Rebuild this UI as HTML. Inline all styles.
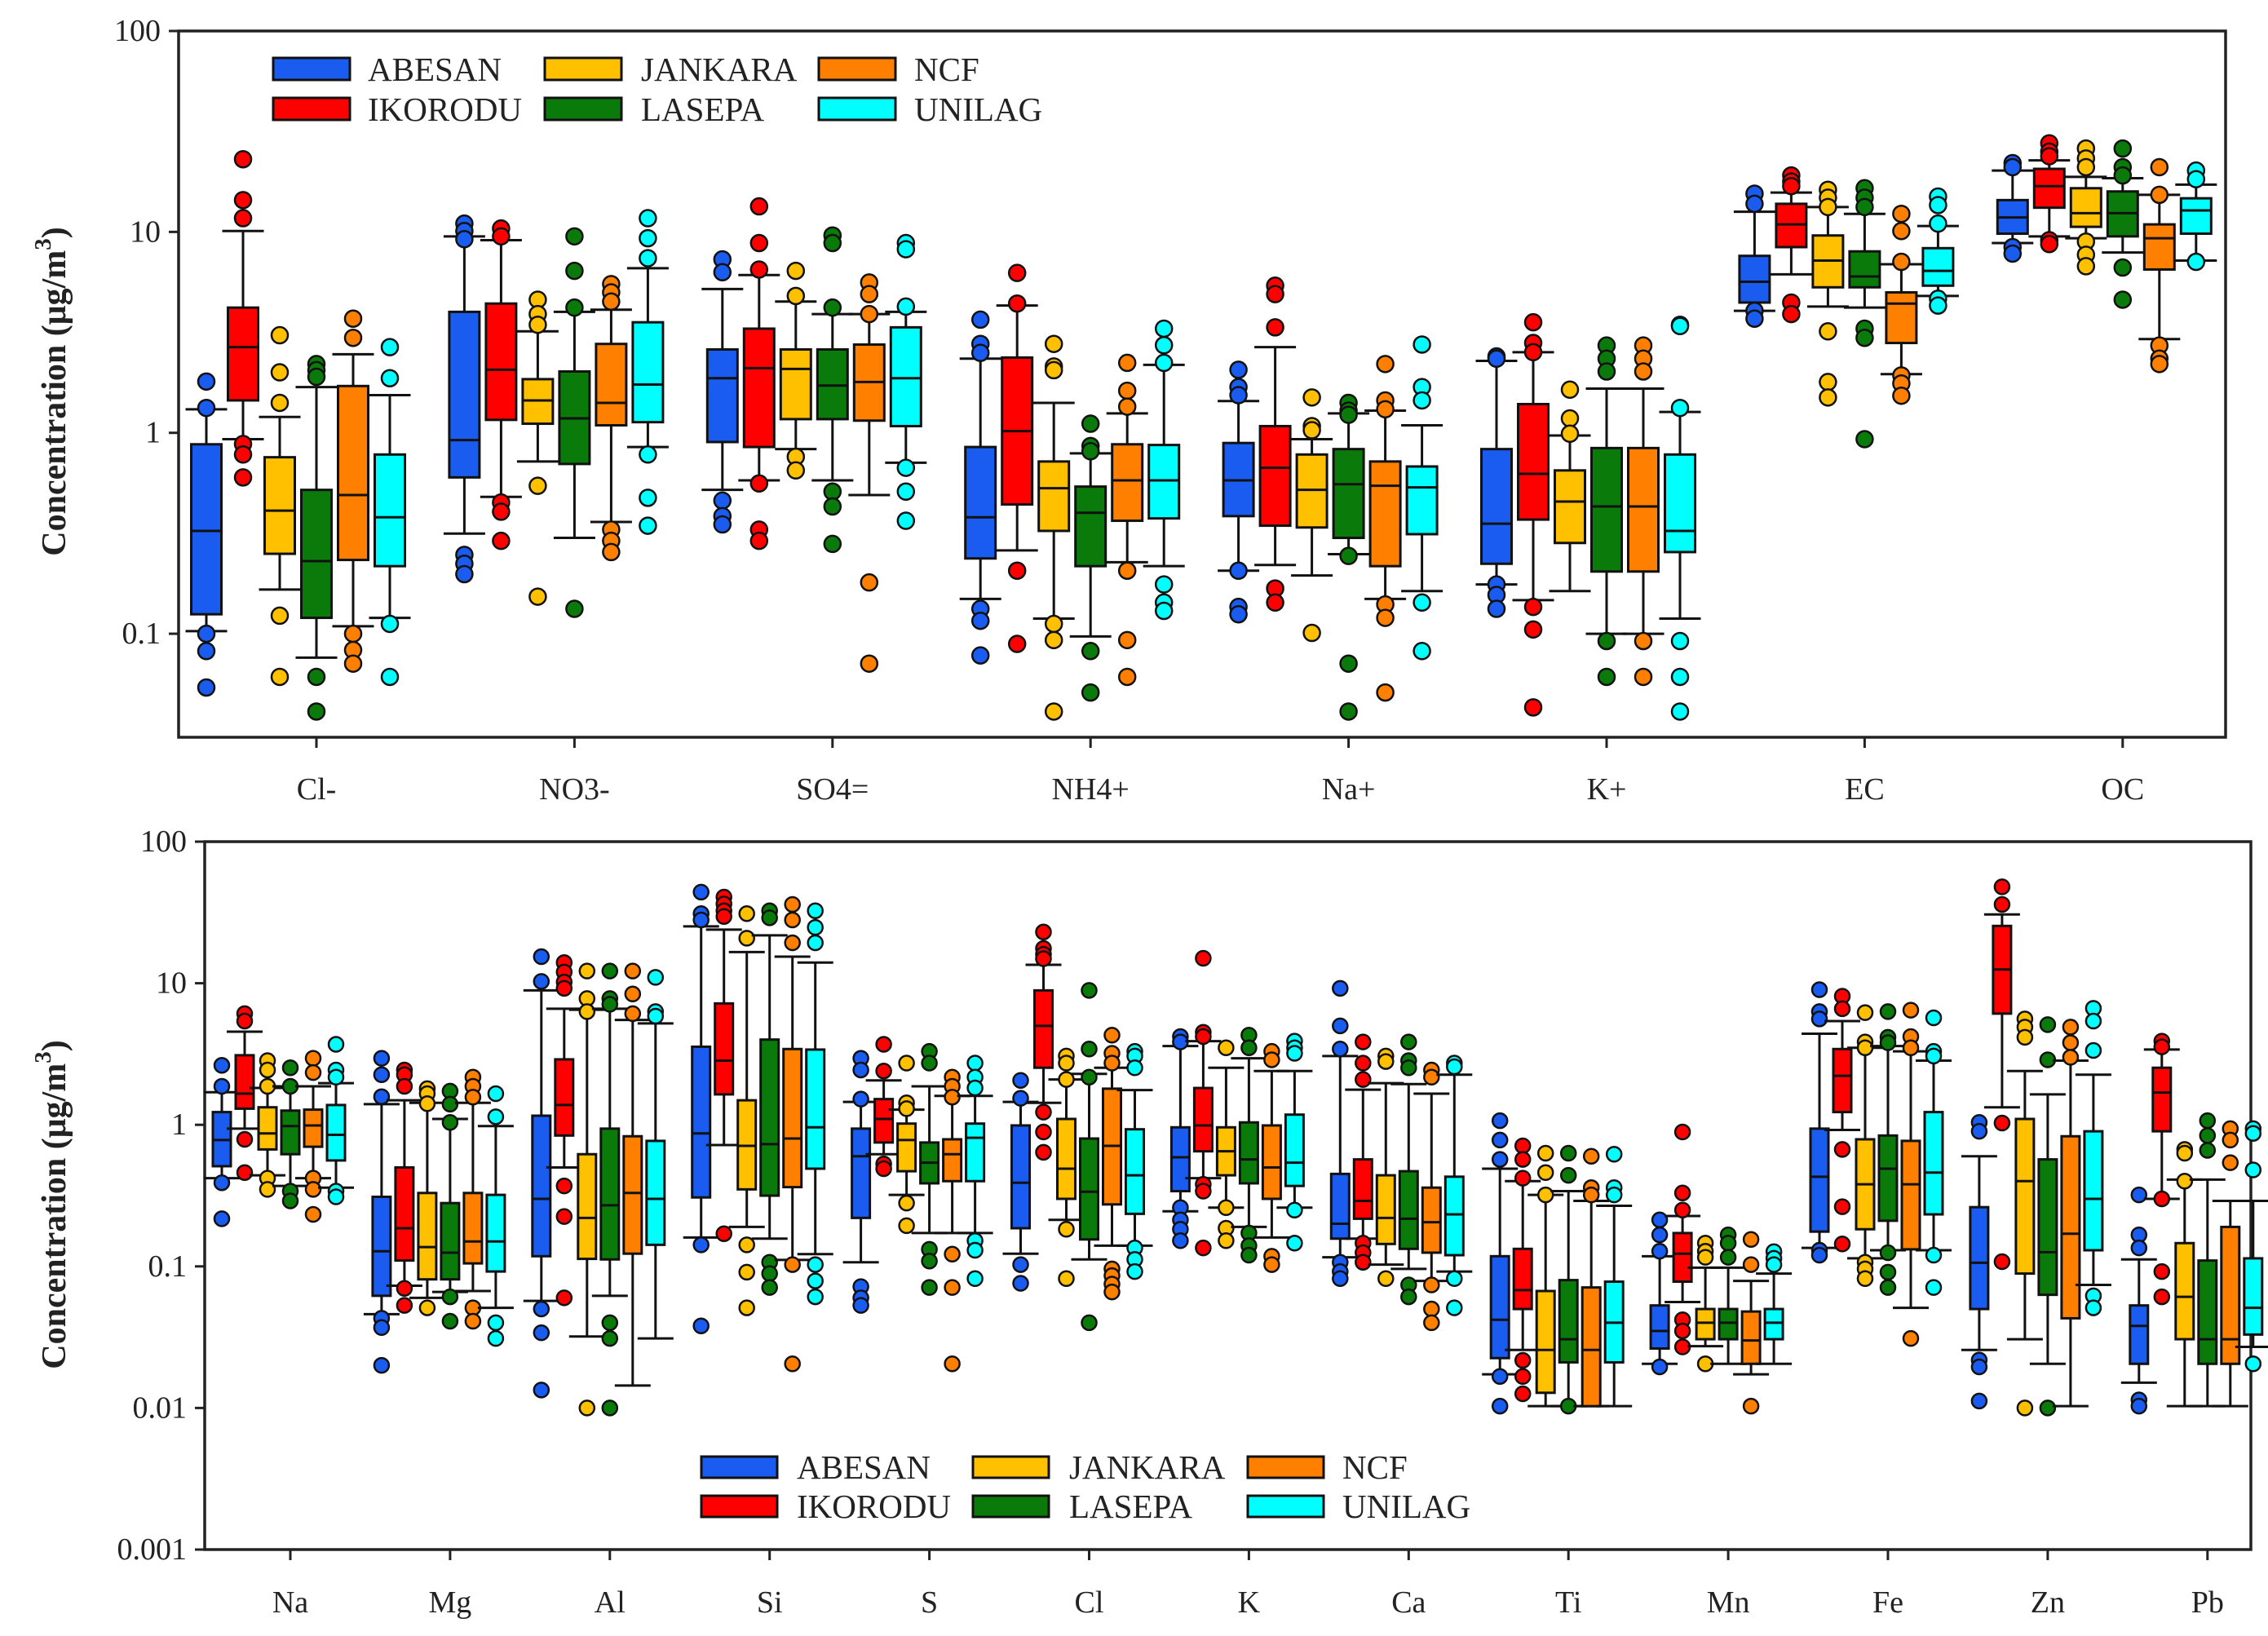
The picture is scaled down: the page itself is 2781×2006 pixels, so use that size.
<!DOCTYPE html>
<html><head><meta charset="utf-8"><title>Concentration box plots</title>
<style>
html,body{margin:0;padding:0;background:#fff;}
svg{display:block;font-family:"Liberation Serif",serif;}
</style></head>
<body>
<svg id="chart" width="2781" height="2006" viewBox="0 0 2781 2006" xmlns="http://www.w3.org/2000/svg">
<rect x="0" y="0" width="2781" height="2006" fill="#fff"/>
</svg>
<script>
const sites = ['ABESAN','IKORODU','JANKARA','LASEPA','NCF','UNILAG'];
const colors = ['#1a5cf0','#ff0000','#ffc000','#0a7a0a','#ff8000','#00ffff'];

const topCategories = ['Cl-','NO3-','SO4=','NH4+','Na+','K+','EC','OC'];
const topTickValues = [0.1,1,10,100];
const topTickLabels = ['0.1','1','10','100'];
// stats: [lowerWhisker, q1, median, q3, upperWhisker]
const topAbesan = [[0.103,0.125,0.325,0.877,1.31],[0.315,0.6,0.92,4.0,9.5],[0.52,0.9,1.87,2.6,5.2],[0.149,0.237,0.38,0.85,2.34],[0.206,0.385,0.58,0.89,1.44],[0.176,0.223,0.353,0.83,2.28],[4.05,4.45,5.65,7.6,12.6],[8.8,9.8,11.8,14.4,20.2]];
const topAbesanOut = [[1.8,1.33,0.1,0.082,0.054],[11,10.1,9.2,0.247,0.223,0.198],[7.3,6.3,0.46,0.385,0.35],[3.66,2.77,2.5,0.133,0.116,0.078],[2.06,1.69,1.54,0.206,0.136,0.125],[2.4,2.34,0.176,0.156,0.133],[15.5,13.8,4.05,3.7],[22,21,8.4,7.8]];
const topIkorodu = [[0.93,1.45,2.67,4.2,10.1],[0.48,1.16,2.06,4.4,9.1],[0.58,0.85,2.1,3.3,6.1],[0.26,0.44,1.02,2.37,4.3],[0.22,0.345,0.67,1.08,2.67],[0.147,0.37,0.625,1.39,2.52],[6.15,8.4,10.9,13.8,15.7],[9.5,13.2,16.9,20.6,22.7]];
const topIkoroduOut = [[23,14.4,11.7,0.88,0.78,0.6],[10.4,9.5,0.45,0.405,0.29],[13.4,8.8,6.5,0.56,0.33,0.29],[6.25,4.4,0.206,0.089],[5.4,4.9,3.35,0.168,0.143],[3.55,2.8,2.52,0.136,0.105,0.043],[19.1,17.8,16.9,4.45,3.9],[27.6,25.1,23.8,9.1,8.7]];
const topJankara = [[0.166,0.25,0.41,0.756,1.2],[0.72,1.11,1.45,1.85,3.2],[0.83,1.17,2.08,2.6,4.5],[0.119,0.325,0.53,0.72,1.41],[0.195,0.338,0.52,0.78,0.93],[0.163,0.283,0.455,0.65,0.97],[4.25,5.3,7.2,9.6,13.3],[9.3,10.6,12.4,16.5,18.8]];
const topJankaraOut = [[3.06,2.0,1.41,0.123,0.061],[4.6,3.9,3.45,0.545,0.153],[6.4,4.8,0.76,0.65],[2.77,2.14,2.05,0.112,0.093,0.041],[1.5,1.08,1.03,0.101],[1.64,1.18,0.99],[16.2,14.8,13.3,3.2,1.79,1.5],[26,23.2,21,8.95,7.7,6.75]];
const topLasepa = [[0.076,0.12,0.23,0.52,1.69],[0.3,0.7,1.18,2.02,4.0],[0.58,1.17,1.72,2.6,3.9],[0.097,0.217,0.4,0.54,0.79],[0.249,0.3,0.555,0.83,1.25],[0.1,0.204,0.43,0.84,1.66],[4.2,5.3,6.0,8.0,12.3],[7.9,9.5,12.4,15.9,18.5]];
const topLasepaOut = [[2.2,2.05,1.9,0.061,0.041],[9.5,6.4,4.2,0.133],[9.6,8.8,4.2,0.51,0.43,0.28],[1.11,0.86,0.81,0.082,0.051],[1.41,1.29,1.23,0.244,0.071,0.041],[2.72,2.34,2.02,0.092,0.061],[16.5,14.8,13.3,3.3,2.97,0.93],[26,21,19.1,6.65,4.6]];
const topNcf = [[0.109,0.233,0.49,1.71,2.46],[0.36,1.09,1.41,2.77,4.1],[0.49,1.15,1.79,2.75,3.9],[0.227,0.365,0.58,0.877,1.25],[0.149,0.217,0.545,0.72,1.29],[0.1,0.204,0.43,0.84,1.66],[1.96,2.8,4.4,5.0,6.9],[2.93,6.5,9.3,10.9,15.3]];
const topNcfOut = [[3.7,2.97,0.1,0.083,0.071],[5.5,5.0,4.5,0.33,0.29,0.255],[5.6,4.9,3.9,0.18,0.071],[2.23,1.62,1.35,0.206,0.093,0.061],[2.2,1.45,1.31,0.14,0.12,0.051],[2.72,2.34,2.02,0.092,0.061],[12.3,10.1,7.1,1.93,1.76,1.53],[21,15.3,2.72,2.34,2.2]];
const topUnilag = [[0.12,0.217,0.38,0.78,1.54],[0.85,1.13,1.74,3.55,6.6],[0.71,1.08,1.87,3.35,4.0],[0.217,0.375,0.58,0.87,2.18],[0.163,0.313,0.535,0.68,1.09],[0.119,0.255,0.325,0.78,1.27],[4.8,5.4,6.4,8.3,10.7],[7.2,9.8,12.8,14.7,17.2]];
const topUnilagOut = [[2.67,1.87,0.112,0.061],[11.7,9.3,7.4,0.78,0.475,0.345],[8.8,8.2,4.25,0.67,0.51,0.365],[3.3,2.73,2.23,0.176,0.143,0.13],[2.75,1.69,1.45,0.143,0.082],[3.45,3.4,1.33,0.092,0.061,0.041],[15,13.6,11,4.65,4.3],[20.2,18.3,7.1]];

const botCategories = ['Na','Mg','Al','Si','S','Cl','K','Ca','Ti','Mn','Fe','Zn','Pb'];
const botTickValues = [0.001,0.01,0.1,1,10,100];
const botTickLabels = ['0.001','0.01','0.1','1','10','100'];
const botAbesan = [[0.42,0.51,0.78,1.23,1.7],[0.046,0.062,0.128,0.31,1.4],[0.057,0.118,0.3,1.16,8.9],[0.16,0.307,0.87,3.56,25.2],[0.107,0.22,0.6,0.94,1.45],[0.123,0.186,0.39,0.99,1.45],[0.245,0.34,0.59,0.96,3.6],[0.116,0.157,0.2,0.45,3.06],[0.0173,0.0225,0.042,0.118,0.49],[0.0205,0.0263,0.035,0.053,0.118],[0.135,0.176,0.43,0.94,4.4],[0.0257,0.05,0.106,0.262,0.6],[0.0151,0.0205,0.038,0.053,0.112]];
const botAbesanOut = [[2.63,1.87,0.39,0.217],[2.95,2.26,1.58,0.043,0.037,0.02],[15.4,10.3,0.05,0.034,0.0134],[44,31,28,0.142,0.038],[2.95,2.44,1.52,0.072,0.06,0.053],[2.06,1.54,0.103,0.076],[4.2,3.85,0.26,0.213,0.183,0.152],[9.2,5.0,3.43,0.107,0.092,0.082],[1.07,0.78,0.57,0.0167,0.0103],[0.213,0.167,0.128,0.0195],[9.0,6.3,5.6,0.13,0.12],[1.04,0.9,0.0218,0.0195,0.0112],[0.32,0.167,0.135,0.0114,0.0103]];
const botIkorodu = [[0.94,1.3,1.66,3.1,4.55],[0.073,0.11,0.186,0.5,1.49],[0.5,0.84,1.38,2.9,6.6],[0.72,1.64,2.84,7.2,23.9],[0.62,0.75,1.1,1.52,2.06],[1.43,2.53,5.0,8.9,13.5],[0.42,0.65,0.99,1.82,3.9],[0.157,0.217,0.29,0.57,1.77],[0.0257,0.05,0.068,0.133,0.4],[0.056,0.078,0.123,0.172,0.227],[0.92,1.23,2.22,3.43,5.4],[1.33,6.1,12.5,25.4,30.6],[0.3,0.9,1.69,2.53,3.4]];
const botIkoroduOut = [[6.1,5.4,0.79,0.46],[2.44,2.26,1.87,0.07,0.053],[14,12,10.2,9.2,0.37,0.225,0.06],[40.6,36.3,32.5,29.6,0.17],[3.7,2.4,0.53,0.49],[23,17.6,16,14.9,1.23,0.89,0.64],[15,4.5,4.2,0.38,0.34,0.135],[3.85,2.73,2.09,0.146,0.125,0.107],[0.71,0.57,0.42,0.0217,0.0167,0.0126],[0.89,0.33,0.25,0.042,0.035,0.027],[8.1,6.6,0.67,0.264,0.144],[48,36,1.03,0.108],[3.9,3.55,0.3,0.092,0.061]];
const botJankara = [[0.44,0.67,0.87,1.33,1.82],[0.06,0.081,0.137,0.33,1.43],[0.032,0.113,0.22,0.62,6.5],[0.19,0.35,0.71,1.49,16.6],[0.32,0.47,0.78,1.02,1.28],[0.213,0.30,0.49,1.1,2.09],[0.26,0.44,0.65,0.96,2.53],[0.103,0.144,0.22,0.44,1.97],[0.0103,0.0128,0.0257,0.067,0.32],[0.0273,0.0306,0.04,0.05,0.098],[0.114,0.183,0.38,0.79,3.5],[0.0306,0.089,0.4,1.1,2.4],[0.0103,0.0306,0.061,0.146,0.41]];
const botJankaraOut = [[2.84,2.44,1.87,0.42,0.35],[1.8,1.66,1.41,0.051],[12.2,7.8,6.3,0.01],[31,20.8,0.142,0.091,0.051],[2.73,1.43,1.3,0.28,0.194],[3.06,2.73,2.09,0.183,0.082],[3.5,0.26,0.186,0.152],[3.06,2.8,0.082],[0.63,0.46,0.32],[0.146,0.128,0.116,0.0205],[6.2,3.85,3.5,0.107,0.096,0.082],[5.6,4.9,4.15,0.01],[0.67,0.63,0.4]];
const botLasepa = [[0.37,0.62,0.98,1.26,1.87],[0.066,0.081,0.125,0.28,1.1],[0.062,0.112,0.27,0.94,6.6],[0.157,0.316,0.73,4.0,21.8],[0.172,0.386,0.54,0.75,1.87],[0.112,0.155,0.337,0.8,2.29],[0.19,0.386,0.57,1.04,2.95],[0.096,0.133,0.217,0.47,1.94],[0.0103,0.021,0.0306,0.08,0.34],[0.0205,0.0306,0.04,0.05,0.098],[0.13,0.21,0.49,0.84,3.6],[0.0205,0.063,0.126,0.57,1.64],[0.0103,0.0205,0.0306,0.11,0.41]];
const botLasepaOut = [[2.53,1.87,0.34,0.29],[1.73,1.4,1.04,0.061,0.041],[12.2,7.8,7.1,0.04,0.031,0.01],[32.5,29,0.107,0.089,0.071],[3.3,2.73,0.132,0.109,0.071],[8.9,3.43,2.17,0.04],[4.3,3.5,0.172,0.14,0.12],[3.85,2.84,2.53,0.074,0.061],[0.63,0.44,0.0103],[0.167,0.146,0.116],[6.3,4.15,3.8,0.125,0.091,0.071],[5.1,2.88,0.01],[1.07,0.84,0.66]];
const botNcf = [[0.42,0.70,0.99,1.28,1.87],[0.067,0.105,0.15,0.33,1.43],[0.0144,0.123,0.33,0.83,5.5],[0.111,0.363,0.8,3.43,15.4],[0.172,0.4,0.62,0.79,1.6],[0.14,0.274,0.71,1.8,2.53],[0.16,0.3,0.5,0.99,2.4],[0.079,0.125,0.205,0.36,1.66],[0.0103,0.0103,0.0257,0.071,0.29],[0.0173,0.0205,0.03,0.048,0.079],[0.051,0.132,0.38,0.77,3.3],[0.0103,0.043,0.17,0.83,2.84],[0.0103,0.0205,0.0306,0.19,0.29]];
const botNcfOut = [[2.95,2.34,0.42,0.35,0.233],[2.17,1.87,1.57,0.051,0.041],[12.2,8.4,6.1],[36,28,19.3,0.103,0.0205],[2.17,1.87,1.57,0.122,0.071,0.0205],[4.3,3.2,2.73,0.096,0.086,0.075,0.066],[3.3,2.88,0.118,0.103],[2.44,2.17,0.074,0.05,0.04],[0.6,0.36,0.32],[0.155,0.103,0.0103],[6.45,4.2,3.5,0.031],[4.9,3.8,3.0],[0.94,0.78,0.54]];
const botUnilag = [[0.36,0.56,0.85,1.38,1.97],[0.051,0.092,0.15,0.32,0.98],[0.031,0.142,0.3,0.77,5.2],[0.122,0.49,0.96,3.4,14],[0.172,0.4,0.81,1.02,1.6],[0.14,0.235,0.44,0.93,1.76],[0.26,0.37,0.54,1.18,2.4],[0.092,0.12,0.233,0.43,2.26],[0.0103,0.021,0.04,0.078,0.268],[0.0205,0.0306,0.04,0.05,0.089],[0.13,0.233,0.46,1.23,2.84],[0.074,0.13,0.3,0.9,2.26],[0.027,0.033,0.051,0.114,0.29]];
const botUnilagOut = [[3.7,2.44,2.17,0.34,0.31],[1.66,1.14,0.04,0.031],[11,6.3,5.85],[32.5,24.8,19.3,0.103,0.079,0.061],[2.73,2.17,1.82,0.152,0.13,0.082],[3.3,3.06,2.53,0.135,0.112,0.092],[3.9,3.5,3.2,0.25,0.146],[2.73,2.57,0.082,0.051],[0.62,0.36,0.32],[0.127,0.114,0.103],[5.7,3.3,3.06,0.12,0.071],[6.65,5.4,3.35,0.062,0.051],[0.94,0.87,0.48,0.0205]];

const NS = 'http://www.w3.org/2000/svg';
const svg = document.getElementById('chart');
function mk(tag, attrs, parent) {
  const e = document.createElementNS(NS, tag);
  for (const k in attrs) e.setAttribute(k, attrs[k]);
  (parent || svg).appendChild(e);
  return e;
}

function drawPanel(cfg) {
  const g = mk('g', {});
  
  
  const yScale = v => cfg.bottom - (Math.log10(v) - cfg.logMin) / (cfg.logMax - cfg.logMin) * (cfg.bottom - cfg.top);
  const xScale = i => cfg.x0 + cfg.step * i;
  const frame = mk('rect', {x: cfg.left, y: cfg.top, width: cfg.right - cfg.left, height: cfg.bottom - cfg.top, fill: 'none', stroke: '#222', 'stroke-width': 3.5}, g);
  
  
  cfg.tickValues.forEach((v, i) => {
    const y = yScale(v);
    const t = mk('line', {x1: cfg.left - 12, x2: cfg.left, y1: y, y2: y, stroke: '#222', 'stroke-width': 3}, g);
    
    
    const lab = mk('text', {x: cfg.left - 22, y: y + 12, 'text-anchor': 'end', 'font-size': 38, fill: '#222'}, g);
    lab.textContent = cfg.tickLabels[i];
    
    
  });
  const ty = mk('text', {x: 0, y: 0, 'font-size': 42, 'font-weight': 'bold', 'text-anchor': 'middle', fill: '#222', transform: 'translate(' + cfg.titleX + ',' + cfg.titleY + ') rotate(-90)'}, g);
  
  
  ty.appendChild(document.createTextNode('Concentration (\u03bcg/m'));
  const sup = mk('tspan', {'font-size': 29, dy: -18}, ty);
  sup.textContent = '3';
  const close = mk('tspan', {'font-size': 42, dy: 18}, ty);
  close.textContent = ')';
  cfg.categories.forEach((c, i) => {
    const x = xScale(i);
    const t = mk('line', {x1: x, x2: x, y1: cfg.bottom, y2: cfg.bottom + 13, stroke: '#222', 'stroke-width': 3}, g);
    
    
    const lab = mk('text', {x: x, y: cfg.labelY, 'text-anchor': 'middle', 'font-size': 38, fill: '#222'}, g);
    lab.textContent = c;
    
    
  });
  cfg.stats.forEach((siteStats, s) => {
    const sg = mk('g', {}, g);
    
    
    siteStats.forEach((st, i) => {
      const cx = xScale(i) + (s - 3) * cfg.boxStep;
      const [lo, q1, md, q3, hi] = st.map(yScale);
      const hw = cfg.boxW / 2, cw = cfg.capW / 2;
      const wl = mk('path', {d: 'M' + cx + ',' + lo + 'V' + q1 + 'M' + cx + ',' + q3 + 'V' + hi + 'M' + (cx - cw) + ',' + lo + 'H' + (cx + cw) + 'M' + (cx - cw) + ',' + hi + 'H' + (cx + cw), stroke: '#111', 'stroke-width': 3, fill: 'none'}, sg);
      
      
      const b = mk('rect', {x: cx - hw, y: q3, width: cfg.boxW, height: Math.max(1, q1 - q3), fill: colors[s], stroke: '#111', 'stroke-width': 3}, sg);
      
      
      const m = mk('line', {x1: cx - hw, x2: cx + hw, y1: md, y2: md, stroke: '#111', 'stroke-width': 3}, sg);
      
      
      cfg.outliers[s][i].forEach(v => {
        const o = mk('circle', {cx: cx, cy: yScale(v), r: cfg.r, fill: colors[s], stroke: '#111', 'stroke-width': 2.5}, sg);
        
        
      });
    });
  });
  const lg = mk('g', {}, g);
  
  
  sites.forEach((name, s) => {
    const col = Math.floor(s / 2), row = s % 2;
    const x = cfg.legX[col], y = cfg.legY + row * cfg.legRow;
    const sw = mk('rect', {x: x, y: y, width: cfg.swW, height: cfg.swH, fill: colors[s], stroke: '#111', 'stroke-width': 3}, lg);
    
    
    const t = mk('text', {x: cfg.legTX[col], y: y + cfg.swH + 1, 'font-size': 41, fill: '#222'}, lg);
    t.textContent = name;
    
    
  });
}

drawPanel({
  name: 'top-panel-ions', left: 219, right: 2729, top: 38, bottom: 904,
  logMin: -1 - 127 / 246.5, logMax: 2, x0: 388, step: 316.4, boxStep: 45, boxW: 37, capW: 51, r: 10,
  categories: topCategories, tickValues: topTickValues, tickLabels: topTickLabels,
  stats: [topAbesan, topIkorodu, topJankara, topLasepa, topNcf, topUnilag],
  outliers: [topAbesanOut, topIkoroduOut, topJankaraOut, topLasepaOut, topNcfOut, topUnilagOut],
  labelY: 980, titleX: 80, titleY: 480,
  legX: [335, 668, 1004], legTX: [451, 786, 1121], legY: 71, legRow: 49, swW: 94, swH: 27
});
drawPanel({
  name: 'bottom-panel-elements', left: 251, right: 2760, top: 1032, bottom: 1900,
  logMin: -3, logMax: 2, x0: 356, step: 195.9, boxStep: 28, boxW: 22, capW: 44, r: 9,
  categories: botCategories, tickValues: botTickValues, tickLabels: botTickLabels,
  stats: [botAbesan, botIkorodu, botJankara, botLasepa, botNcf, botUnilag],
  outliers: [botAbesanOut, botIkoroduOut, botJankaraOut, botLasepaOut, botNcfOut, botUnilagOut],
  labelY: 1977, titleX: 80, titleY: 1477,
  legX: [860, 1193, 1530], legTX: [977, 1311, 1646], legY: 1786, legRow: 48, swW: 93, swH: 26
});
</script>
</body></html>
